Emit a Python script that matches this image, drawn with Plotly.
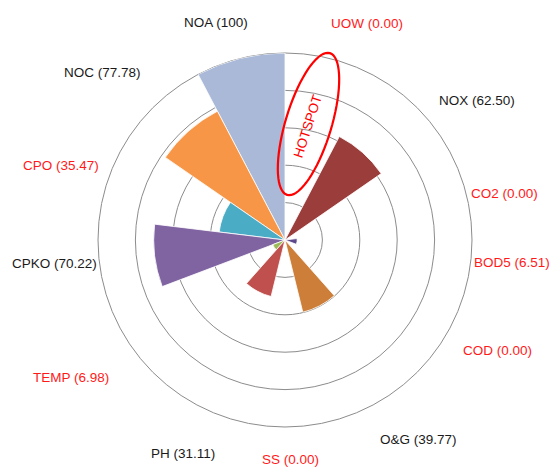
import numpy as np
import plotly.graph_objects as go

# ---- data (counter-clockwise from the top) ----
categories = ["NOA", "NOC", "CPO", "CPKO", "TEMP", "PH", "SS",
              "O&G", "COD", "BOD5", "CO2", "NOX", "UOW"]
values = [100, 77.78, 35.47, 70.22, 6.98, 31.11, 0.00,
          39.77, 0.00, 6.51, 0.00, 62.50, 0.00]
bar_colors = ["#A9B9D7", "#F79646", "#4BACC6", "#8064A2", "#9BBB59", "#C0504D", "#BFBFBF",
              "#CD7F39", "#BFBFBF", "#5E4A8A", "#BFBFBF", "#9B3D3B", "#BFBFBF"]
highlighted = {"UOW", "CO2", "BOD5", "COD", "SS", "TEMP", "CPO"}
radial_ticks = [20, 40, 60, 80, 100]

W, H = 551, 468
cx, cy, R = 285, 240, 187  # polar centre and radius in pixels


def px(x, y):
    return x / W, 1 - y / H


n = len(categories)
fig = go.Figure()
fig.add_trace(go.Barpolar(
    r=values,
    theta=categories,
    marker=dict(color=bar_colors, line=dict(color="white", width=0.8)),
    hoverinfo="theta+r",
))

x0, y0 = px(cx - R, cy + R)
x1, y1 = px(cx + R, cy - R)
fig.update_layout(
    width=W, height=H, autosize=False,
    margin=dict(l=0, r=0, t=0, b=0),
    paper_bgcolor="white", plot_bgcolor="white",
    showlegend=False,
    polar=dict(
        domain=dict(x=[x0, x1], y=[y0, y1]),
        bgcolor="white",
        bargap=0,
        hole=0,
        radialaxis=dict(range=[0, 100], tickvals=radial_ticks, showticklabels=False,
                        ticks="", showline=False, gridcolor="#8C8C8C", gridwidth=1,
                        layer="below traces"),
        angularaxis=dict(direction="counterclockwise", rotation=90 + 180 / n,
                         showgrid=False, showticklabels=False, ticks="",
                         showline=True, linecolor="#8C8C8C", linewidth=1,
                         layer="below traces"),
    ),
)

# category labels placed around the rose as in the original
label_pos = {
    "NOA": (216, 22), "UOW": (367, 23), "NOC": (102, 72), "NOX": (477, 100),
    "CPO": (61, 165), "CO2": (504, 193), "CPKO": (54, 263), "BOD5": (512, 262),
    "COD": (497, 350), "TEMP": (71, 377), "O&G": (418, 439), "PH": (183, 453),
    "SS": (290, 459),
}
for cat, val in zip(categories, values):
    txt = f"{cat} ({val:.0f})" if val == 100 else f"{cat} ({val:.2f})"
    xp, yp = px(*label_pos[cat])
    fig.add_annotation(x=xp, y=yp, xref="paper", yref="paper", text=txt, showarrow=False,
                       font=dict(family="Liberation Sans, Arial, sans-serif", size=13.5,
                                 color="#FF1A1A" if cat in highlighted else "#1A1A1A"),
                       xanchor="center", yanchor="middle")

# HOTSPOT ellipse (rotated) and text
ecx, ecy, ea, eb, tilt = 308.5, 124, 74, 23, np.deg2rad(16.8)
t = np.linspace(0, 2 * np.pi, 73)
ex = ecx + eb * np.cos(t) * np.cos(tilt) + ea * np.sin(t) * np.sin(tilt)
ey = ecy - ea * np.sin(t) * np.cos(tilt) + eb * np.cos(t) * np.sin(tilt)
pts = [px(a, b) for a, b in zip(ex, ey)]
path = "M " + " L ".join(f"{a:.5f},{b:.5f}" for a, b in pts) + " Z"
fig.add_shape(type="path", path=path, xref="paper", yref="paper",
              line=dict(color="#FF0000", width=2.2), fillcolor="rgba(0,0,0,0)")
hx, hy = px(308, 127)
fig.add_annotation(x=hx, y=hy, xref="paper", yref="paper", text="HOTSPOT", showarrow=False,
                   textangle=-72, xanchor="center", yanchor="middle",
                   font=dict(family="Liberation Sans, Arial, sans-serif", size=13.5, color="#FF0000"))

fig.write_html("out.html",
               config={"displayModeBar": False},
               post_script="document.body.style.margin='0';document.body.style.padding='0';"
                           "document.body.style.overflow='hidden';")
